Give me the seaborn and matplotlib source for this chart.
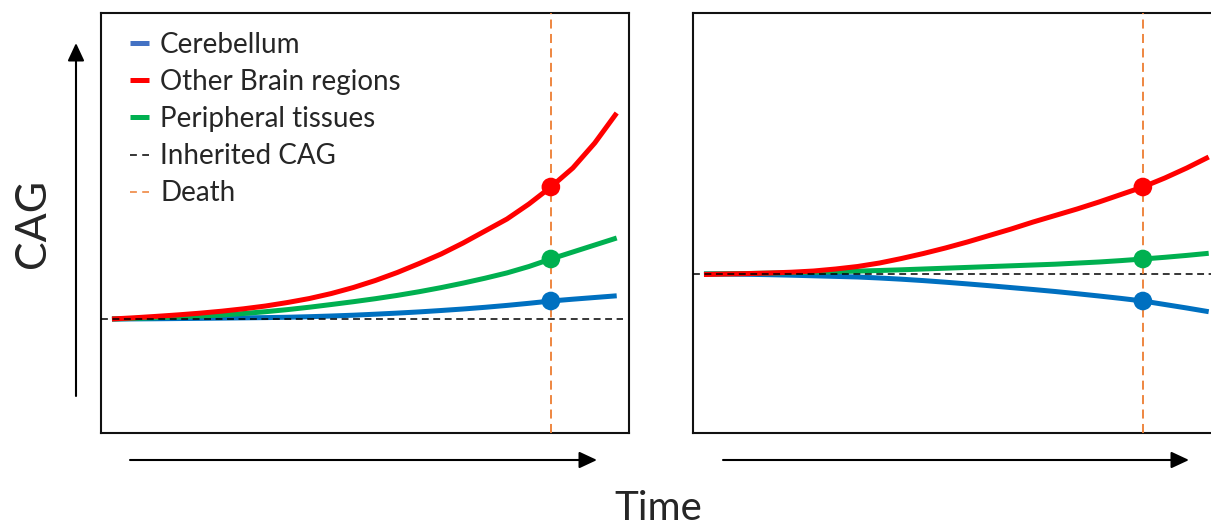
import matplotlib
import matplotlib.pyplot as plt

matplotlib.use("Agg")
import pandas as pd
import seaborn as sns
from matplotlib.lines import Line2D
from matplotlib.patches import FancyArrowPatch

# time axis (death at t=100), CAG values
time = [0, 5, 10, 15, 20, 25, 30, 35, 40, 45, 50, 55,
        60, 65, 70, 75, 80, 85, 90, 95, 100, 105, 110, 115]

# left panel: all tissues expand
left_red = [40, 40.24, 40.52, 40.82, 41.16, 41.56, 42.04, 42.6, 43.3, 44.1, 45.1, 46.3,
            47.7, 49.3, 51.1, 53.0, 55.2, 57.6, 60.0, 63.0, 66.4, 70.2, 75.2, 81.2]
left_green = [40, 40.12, 40.26, 40.42, 40.6, 40.8, 41.1, 41.46, 41.88, 42.36, 42.9, 43.46,
              44.06, 44.72, 45.46, 46.28, 47.18, 48.16, 49.22, 50.5, 52.0, 53.4, 54.8, 56.2]
left_blue = [40, 40.02, 40.05, 40.09, 40.13, 40.18, 40.23, 40.28, 40.35, 40.46, 40.6, 40.76,
             40.96, 41.18, 41.42, 41.7, 42.0, 42.34, 42.72, 43.14, 43.6, 43.96, 44.3, 44.64]
left_inherited = 40

# right panel: cerebellum contracts
right_red = [48.9, 49.0, 49.08, 49.2, 49.36, 49.6, 50.0, 50.5, 51.2, 52.1, 53.1, 54.2,
             55.4, 56.7, 58.0, 59.4, 60.7, 62.0, 63.4, 64.9, 66.4, 68.2, 70.2, 72.4]
right_green = [49, 49.04, 49.1, 49.18, 49.26, 49.36, 49.46, 49.58, 49.7, 49.84, 50.0, 50.16,
               50.32, 50.48, 50.64, 50.8, 50.96, 51.18, 51.4, 51.68, 52.0, 52.34, 52.72, 53.14]
right_blue = [49, 48.98, 48.94, 48.86, 48.76, 48.64, 48.52, 48.4, 48.2, 47.96, 47.68, 47.36,
              47.02, 46.66, 46.28, 45.9, 45.5, 45.06, 44.6, 44.12, 43.6, 42.9, 42.2, 41.46]
right_inherited = 49

death_time = 100
tissues = ["Other Brain regions", "Peripheral tissues", "Cerebellum"]
colors = {"Cerebellum": "#0070C0", "Other Brain regions": "#FF0000", "Peripheral tissues": "#00B050"}
legend_labels = ["Cerebellum", "Other Brain regions", "Peripheral tissues", "Inherited CAG", "Death"]

sns.set_style("white")
plt.rcParams["font.family"] = ["Lato", "DejaVu Sans"]


def make_frame(red, green, blue):
    rows = []
    for name, vals in zip(tissues, [red, green, blue]):
        for t, v in zip(time, vals):
            rows.append({"time": t, "cag": v, "tissue": name})
    return pd.DataFrame(rows)


def draw_panel(ax, df, inherited):
    # blue first so red ends up on top
    for name in ["Cerebellum", "Peripheral tissues", "Other Brain regions"]:
        sub = df[df["tissue"] == name]
        sns.lineplot(data=sub, x="time", y="cag", color=colors[name], linewidth=3.6,
                     ax=ax, legend=False, zorder=2, solid_capstyle="butt",
                     solid_joinstyle="round")
    ax.hlines(inherited, -2.5, 116.4, color="black", linewidth=1.1,
              linestyle=(0, (4.5, 3)), zorder=3)
    ax.axvline(death_time, color="#ED7D31", linewidth=1.3, linestyle=(0, (5, 3)), zorder=3)
    dots = df[df["time"] == death_time]
    sns.scatterplot(data=dots, x="time", y="cag", hue="tissue", palette=colors,
                    s=180, edgecolor="none", legend=False, ax=ax, zorder=4)
    ax.set_xlim(-2.5, 117.8)
    ax.set_ylim(17.2, 101.2)
    ax.set_xticks([])
    ax.set_yticks([])
    ax.set_xlabel("")
    ax.set_ylabel("")
    for sp in ax.spines.values():
        sp.set_color("#111111")
        sp.set_linewidth(1.5)


fig = plt.figure(figsize=(12.11, 5.29), dpi=100)
ax1 = fig.add_axes([101 / 1211, 96 / 529, 528 / 1211, 420 / 529])
ax2 = fig.add_axes([693 / 1211, 96 / 529, 528 / 1211, 420 / 529])

draw_panel(ax1, make_frame(left_red, left_green, left_blue), left_inherited)
draw_panel(ax2, make_frame(right_red, right_green, right_blue), right_inherited)

handles = [
    Line2D([], [], color="#4472C4", linewidth=3.6, solid_capstyle="butt"),
    Line2D([], [], color="#FF0000", linewidth=3.6, solid_capstyle="butt"),
    Line2D([], [], color="#00B050", linewidth=3.6, solid_capstyle="butt"),
    Line2D([], [], color="black", linewidth=1.1, linestyle=(0, (4.5, 3.5))),
    Line2D([], [], color="#ED7D31", linewidth=1.1, linestyle=(0, (4.5, 3.5))),
]
ax1.legend(handles, legend_labels, loc="upper left", bbox_to_anchor=(0.055, 0.955), frameon=False,
           fontsize=20, handlelength=0.68, handletextpad=0.4, labelspacing=0.40,
           borderpad=0, borderaxespad=0)

# axis arrows, positioned in figure pixels
arrow = dict(arrowstyle="-|>,head_length=0.9,head_width=0.42", color="black",
             linewidth=1.5, mutation_scale=12, shrinkA=0, shrinkB=0, transform=fig.transFigure)
fig.add_artist(FancyArrowPatch((76 / 1211, 133 / 529), (76 / 1211, 486 / 529), **arrow))
fig.add_artist(FancyArrowPatch((130 / 1211, 69 / 529), (597 / 1211, 69 / 529), **arrow))
fig.add_artist(FancyArrowPatch((723 / 1211, 69 / 529), (1189 / 1211, 69 / 529), **arrow))

fig.text(33 / 1211, 1 - 223 / 529, "CAG", rotation=90, ha="center", va="center", fontsize=31)
fig.text(658 / 1211, 1 - 508 / 529, "Time", ha="center", va="center", fontsize=29)

fig.savefig("out.png", dpi=100)
plt.close(fig)
